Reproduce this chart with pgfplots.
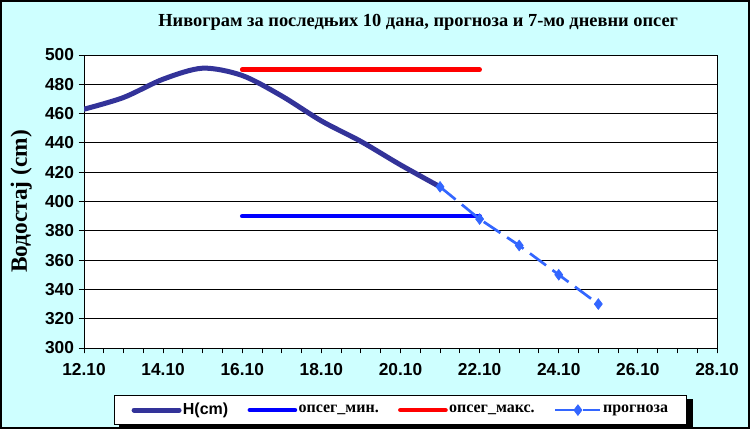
\documentclass[border=0pt]{standalone}
\usepackage{fontspec}
\setmainfont{Liberation Serif}
\setsansfont{Liberation Sans}
\usepackage{pgfplots}
\pgfplotsset{compat=1.18}

\definecolor{bgcyan}{RGB}{206,255,255}
\definecolor{hnavy}{RGB}{51,51,153}
\definecolor{minblue}{RGB}{0,0,255}
\definecolor{maxred}{RGB}{255,0,0}
\definecolor{fcblue}{RGB}{51,102,255}

\pgfdeclarelayer{bg}
\pgfdeclarelayer{sh}
\pgfsetlayers{bg,sh,main}

\begin{document}
\begin{tikzpicture}[x=1pt,y=1pt]
  \useasboundingbox (0,0) rectangle (562.5,321.75);
  \begin{pgfonlayer}{bg}
    \fill[bgcyan] (0,0) rectangle (562.5,321.75);
    \draw[black, line width=1.5pt] (0.75,0.75) rectangle (561.75,321);
  \end{pgfonlayer}

  \begin{axis}[
    at={(63pt,60.75pt)}, anchor=south west,
    scale only axis,
    width=474.75pt, height=219.75pt,
    xmin=12, xmax=28, ymin=300, ymax=500,
    xtick={12,14,...,28},
    xticklabels={12.10,14.10,16.10,18.10,20.10,22.10,24.10,26.10,28.10},
    minor xtick={12,12.5,...,28},
    ytick={300,320,...,500},
    xtick pos=left, ytick pos=left,
    tick align=outside,
    major tick length=4pt, minor tick length=4pt,
    every tick/.style={black, line width=0.75pt},
    axis line style={black, line width=0.75pt},
    ymajorgrids,
    major grid style={black, line width=0.75pt},
    axis background/.style={fill=white},
    /pgf/number format/assume math mode=true,
    ticklabel style={font=\sffamily\bfseries\fontsize{13}{13}\selectfont},
    xticklabel style={yshift=-4pt},
    title={Нивограм за последњих 10 дана, прогноза и 7-мо дневни опсег},
    title style={at={(axis description cs:0.528,1.085)}, anchor=center,
                 font=\bfseries\fontsize{13.8}{13.8}\selectfont},
    ylabel={Водостај (cm)},
    ylabel style={at={(axis description cs:-0.099,0.5)}, anchor=center,
                  font=\bfseries\fontsize{17.5}{17.5}\selectfont},
    legend columns=4,
    legend style={name=leg,
                  at={(axis description cs:0.5,-0.212)}, anchor=center,
                  draw=black, line width=0.75pt, fill=white,
                  font=\bfseries\fontsize{12}{12}\selectfont,
                  inner xsep=13pt, inner ysep=3.8pt,
                  nodes={inner xsep=1pt, inner ysep=2pt},
                  /tikz/every even column/.append style={column sep=13.5pt}},
    legend image code/.code={
      \draw[mark repeat=2, mark phase=2, #1]
        plot coordinates {(0pt,0pt) (16.9pt,0pt) (33.75pt,0pt)};
    },
  ]
    \addplot[hnavy, line width=3.75pt, smooth, line cap=round] coordinates {
      (12,463) (13,471) (14,483.5) (15,491) (16,486) (17,472)
      (18,455) (19,441) (20,425) (21,410)
    };
    \addlegendentry{\sffamily H(cm)}
    \addplot[minblue, line width=3.5pt, line cap=round] coordinates {
      (16,390) (22,390)
    };
    \addlegendentry{опсег\_мин.}
    \addplot[maxred, line width=3.5pt, line cap=round] coordinates {
      (16,490) (22,490)
    };
    \addlegendentry{опсег\_макс.}
    \addplot[fcblue, line width=2pt, dash pattern=on 15pt off 6pt,
             mark=diamond*, mark size=4pt,
             mark options={solid, fill=fcblue, draw=fcblue, line width=0.5pt}]
      coordinates {
      (21,410) (22,388) (23,370) (24,350) (25,330)
    };
    \addlegendentry{прогноза}
  \end{axis}
  \begin{pgfonlayer}{sh}
    \fill[black] ([xshift=4pt,yshift=-3pt]leg.south west)
      rectangle ([xshift=4pt,yshift=-3pt]leg.north east);
  \end{pgfonlayer}
\end{tikzpicture}
\end{document}
